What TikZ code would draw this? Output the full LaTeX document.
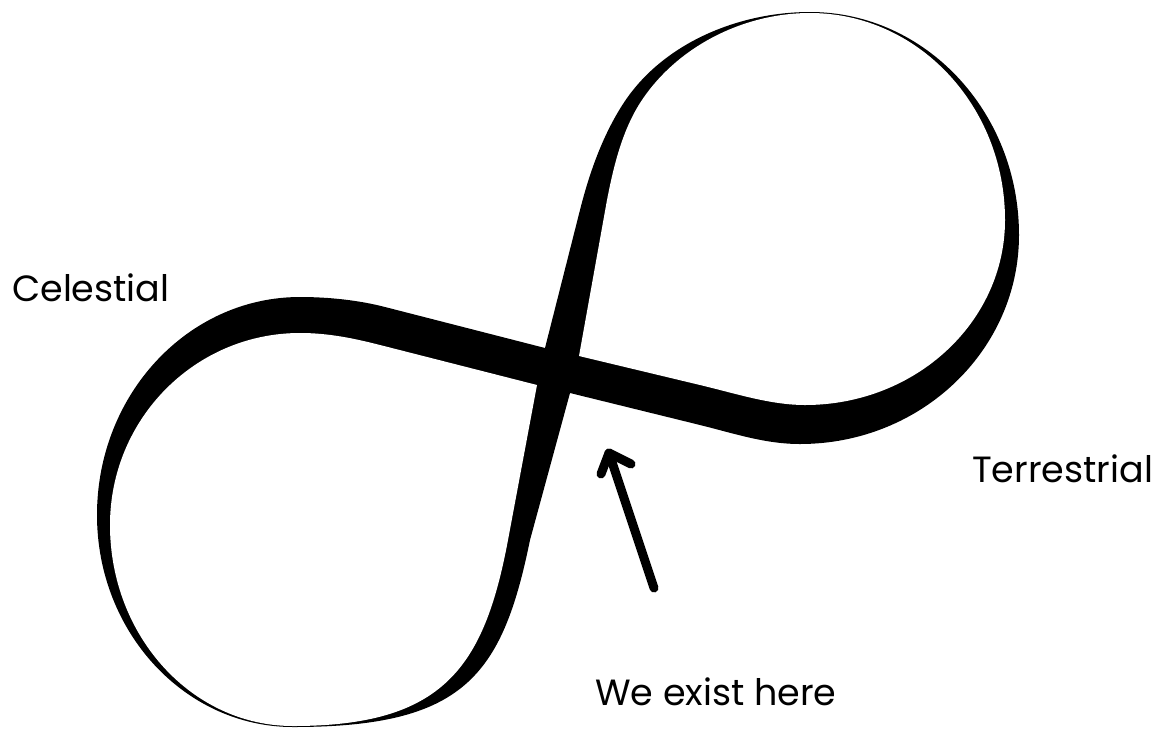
\documentclass[tikz,border=0pt]{standalone}
\usepackage{fontspec}
\setmainfont{Poppins}
\begin{document}
\begin{tikzpicture}[x=1pt,y=-1pt,
  lbl/.style={anchor=base west,inner sep=0pt,font=\fontsize{36.5}{40}\selectfont},
  arr/.style={line width=9pt,line cap=round,line join=round}]
\useasboundingbox (0,0) rectangle (1167,729);
% outer contour of the figure eight
\fill[black] (545,348) -- (385,307)
  .. controls (357.9,300) and (328,297) .. (300,297)
  .. controls (187.9,297) and (97,394.6) .. (97,515)
  .. controls (97,632) and (184.7,727) .. (293,727)
  .. controls (463,727) and (502,677) .. (530,540)
  -- (570,393) -- (700,425)
  .. controls (734,433.4) and (765,444) .. (800,444)
  .. controls (921,444) and (1019,350.4) .. (1019,235)
  .. controls (1019,111.8) and (925.4,12) .. (810,12)
  .. controls (738,12) and (662,43.5) .. (623,104)
  .. controls (602.4,135.9) and (589.3,173.2) .. (580,210)
  -- cycle;
% left hole
\fill[white] (537,385) -- (508,540)
  .. controls (484,667.8) and (443,726) .. (293,726)
  .. controls (191.9,726) and (110,636) .. (110,525)
  .. controls (110,419) and (195,333) .. (300,333)
  .. controls (328,333) and (352.9,338.1) .. (380,345)
  -- cycle;
% right hole
\fill[white] (579,356) -- (607,200)
  .. controls (613.7,165.7) and (622.5,129) .. (642,100)
  .. controls (678.5,45.6) and (744.5,13) .. (810,13)
  .. controls (917.7,13) and (1005,105.7) .. (1005,220)
  .. controls (1005,322) and (915.5,405) .. (805,405)
  .. controls (770,405) and (734,393) .. (700,385)
  -- cycle;
% arrow
\coordinate (tail) at (654,588);
\coordinate (tip) at (609,453);
\coordinate (armL) at (601,474);
\coordinate (armR) at (631,464);
\draw[arr] (tail) -- (tip);
\draw[arr] (armL) -- (tip) -- (armR);
% labels
\node[lbl] (cel) at (12,301) {Celestial};
\node[lbl] (ter) at (972,482) {Terrestrial};
\node[lbl] (we) at (595,705) {We exist here};
\end{tikzpicture}
\end{document}
